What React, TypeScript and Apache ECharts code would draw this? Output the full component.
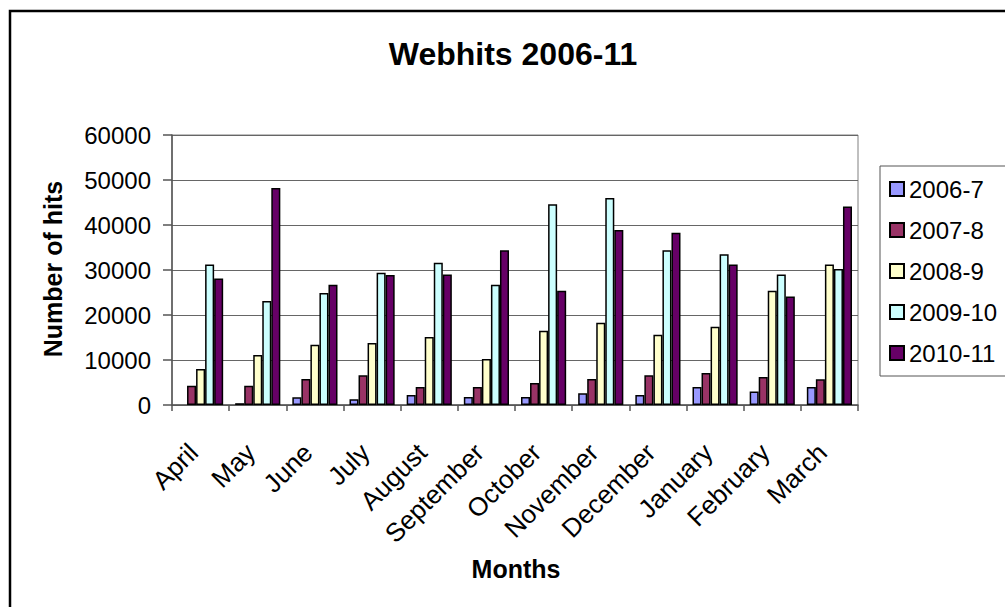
import React, { useEffect, useRef } from "react";
import * as echarts from "echarts";

const months = [
  "April", "May", "June", "July", "August", "September",
  "October", "November", "December", "January", "February", "March",
];
const seriesNames = ["2006-7", "2007-8", "2008-9", "2009-10", "2010-11"];
const hits2006_7 = [null, 400, 1700, 1300, 2200, 1800, 1800, 2600, 2200, 4000, 3000, 4000];
const hits2007_8 = [4300, 4300, 5800, 6600, 4000, 4000, 4900, 5800, 6600, 7100, 6200, 5700];
const hits2008_9 = [8000, 11100, 13400, 13800, 15100, 10200, 16500, 18300, 15600, 17400, 25400, 31200];
const hits2009_10 = [31200, 23100, 24900, 29400, 31600, 26700, 44600, 46000, 34400, 33500, 29000, 30200];
const hits2010_11 = [28100, 48200, 26700, 28900, 29000, 34400, 25400, 38900, 38300, 31200, 24100, 44100];
const yMin = 0;
const yMax = 60000;
const yInterval = 10000;
const colors = ["#9999FF", "#993366", "#FFFFCC", "#CCFFFF", "#660066"];
const titleText = "Webhits 2006-11";
const yTitle = "Number of hits";
const xTitle = "Months";

const FONT = "'Liberation Sans', Arial, sans-serif";

export default function App() {
  const ref = useRef<HTMLDivElement>(null);
  useEffect(() => {
    if (!ref.current) return;
    const chart = echarts.init(ref.current, undefined, { renderer: "svg" });
    const allData = [hits2006_7, hits2007_8, hits2008_9, hits2009_10, hits2010_11];
    chart.setOption({
      animation: false,
      backgroundColor: "#ffffff",
      textStyle: { fontFamily: FONT },
      grid: {
        left: 172,
        right: 147,
        top: 135,
        bottom: 202,
        show: true,
        borderColor: "#808080",
        borderWidth: 1,
        containLabel: false,
      },
      legend: {
        orient: "vertical",
        left: 880,
        top: 166,
        data: seriesNames,
        icon: "rect",
        itemWidth: 14,
        itemHeight: 14,
        itemGap: 17,
        padding: [11, 90, 11, 9],
        borderColor: "#555555",
        borderWidth: 1,
        textStyle: { fontSize: 24, color: "#000", fontFamily: FONT },
      },
      xAxis: {
        type: "category",
        data: months,
        axisLine: { lineStyle: { color: "#555555", width: 1.5 } },
        axisTick: { show: true, length: 6, lineStyle: { color: "#555555", width: 1.5 } },
        axisLabel: {
          rotate: 45,
          margin: 36,
          padding: [0, 10, 0, 0],
          fontSize: 26,
          color: "#000",
          fontFamily: FONT,
          interval: 0,
        },
      },
      yAxis: {
        type: "value",
        min: yMin,
        max: yMax,
        interval: yInterval,
        axisLine: { show: true, lineStyle: { color: "#555555", width: 1.5 } },
        axisTick: { show: true, length: 9, lineStyle: { color: "#555555", width: 1.5 } },
        axisLabel: {
          margin: 21,
          fontSize: 24,
          color: "#000",
          fontFamily: FONT,
          formatter: (v: number) => String(v),
        },
        splitLine: { show: true, lineStyle: { color: "#666666", width: 1.2 } },
      },
      series: seriesNames.map((name, i) => ({
        name,
        type: "bar",
        data: allData[i],
        barGap: "0%",
        barCategoryGap: "21%",
        itemStyle: { color: colors[i], borderColor: "#000", borderWidth: 1.5 },
      })),
      graphic: [
        {
          type: "rect",
          shape: { x: 10, y: 11, width: 1100, height: 700 },
          style: { fill: "none", stroke: "#000", lineWidth: 2.5 },
          silent: true,
          z: 100,
        },
        {
          type: "text",
          x: 513,
          y: 54,
          style: {
            text: titleText,
            font: `bold 32px ${FONT}`,
            fill: "#000",
            textAlign: "center",
            textVerticalAlign: "middle",
          },
        },
        {
          type: "text",
          x: 53,
          y: 269,
          rotation: Math.PI / 2,
          style: {
            text: yTitle,
            font: `bold 25px ${FONT}`,
            fill: "#000",
            textAlign: "center",
            textVerticalAlign: "middle",
          },
        },
        {
          type: "text",
          x: 516,
          y: 569,
          style: {
            text: xTitle,
            font: `bold 25px ${FONT}`,
            fill: "#000",
            textAlign: "center",
            textVerticalAlign: "middle",
          },
        },
      ],
    });
    return () => chart.dispose();
  }, []);
  return (
    <div
      ref={ref}
      style={{ position: "absolute", left: 0, top: 0, width: 1005, height: 607, background: "#fff" }}
    />
  );
}
